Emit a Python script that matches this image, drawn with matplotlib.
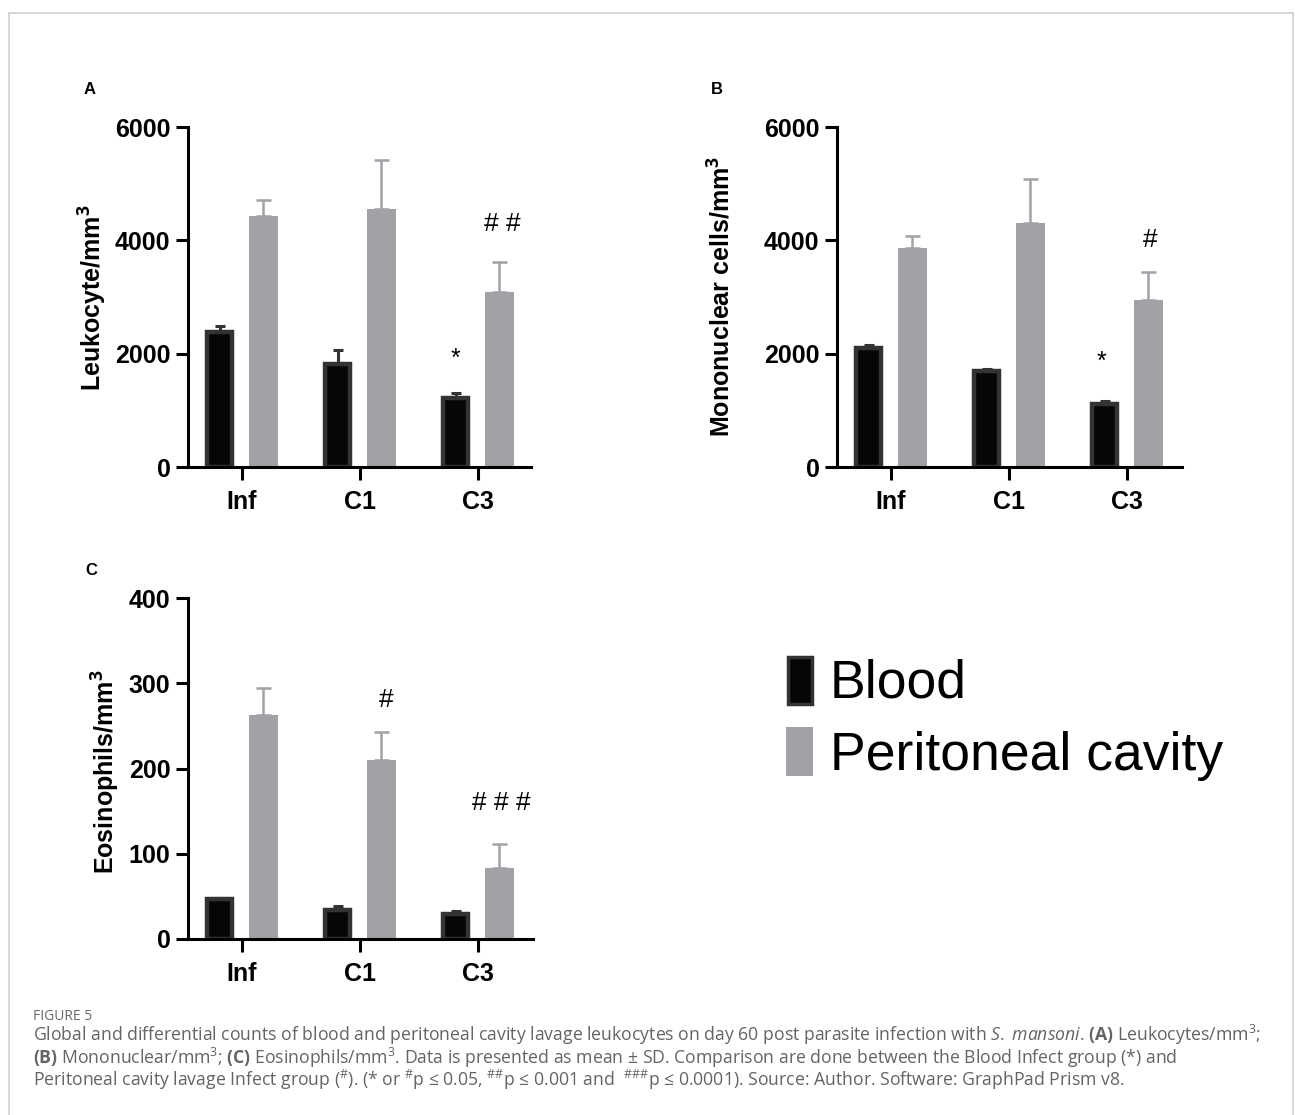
import matplotlib
matplotlib.use('Agg')
import matplotlib.pyplot as plt
import numpy as np
from matplotlib.patches import Rectangle

W, H = 1295, 1115

groups = ['Inf', 'C1', 'C3']

# panel A: leukocytes
leuk_blood = [2380, 1825, 1220]
leuk_blood_sd = [105, 245, 80]
leuk_perit = [4430, 4560, 3090]
leuk_perit_sd = [275, 850, 525]

# panel B: mononuclear cells
mono_blood = [2105, 1695, 1110]
mono_blood_sd = [48, 28, 60]
mono_perit = [3865, 4310, 2940]
mono_perit_sd = [210, 780, 505]

# panel C: eosinophils
eos_blood = [46.5, 34, 29]
eos_blood_sd = [1.5, 4.7, 3.5]
eos_perit = [263, 210, 83]
eos_perit_sd = [32, 33, 28]

BLACK = '#060606'
EDGE = '#333333'
GREY = '#a1a1a6'
CAPFONT = 'Open Sans'

plt.rcParams['font.family'] = 'Liberation Sans'
plt.rcParams['mathtext.fontset'] = 'custom'
plt.rcParams['mathtext.rm'] = CAPFONT
plt.rcParams['mathtext.it'] = CAPFONT + ':italic'
plt.rcParams['mathtext.bf'] = CAPFONT + ':bold'

fig = plt.figure(figsize=(W / 100, H / 100), dpi=100)


def px_axes(x0, y0, x1, y1):
    return fig.add_axes([x0 / W, 1 - y1 / H, (x1 - x0) / W, (y1 - y0) / H])


def draw_panel(ax, blood, blood_sd, perit, perit_sd, ymax, step, xright):
    x = np.arange(len(groups))
    xb = x - 0.19
    xp = x + 0.182
    ax.bar(xb, blood, width=0.21, color=BLACK, edgecolor=EDGE, linewidth=3.2, zorder=2)
    ax.bar(xp, perit, width=0.246, color=GREY, linewidth=0, zorder=2)
    ax.errorbar(xb, blood, yerr=[np.zeros(len(blood)), blood_sd], fmt='none',
                ecolor=EDGE, elinewidth=2.2, capsize=3.6, capthick=2.2, zorder=1)
    ax.errorbar(xp, perit, yerr=[np.zeros(len(perit)), perit_sd], fmt='none',
                ecolor=GREY, elinewidth=1.8, capsize=5.4, capthick=1.8, zorder=1)
    ax.set_xlim(-0.4576, xright)
    ax.set_ylim(0, ymax)
    ax.set_yticks(np.arange(0, ymax + 1, step))
    ax.set_xticks(x)
    ax.set_xticklabels(groups)
    for s in ['top', 'right']:
        ax.spines[s].set_visible(False)
    for s in ['left', 'bottom']:
        ax.spines[s].set_linewidth(2.2)
    ax.tick_params(axis='y', length=8.6, width=2.2, pad=4, labelsize=18)
    ax.tick_params(axis='x', length=9.4, width=2.2, pad=7, labelsize=18)
    for lab in ax.get_xticklabels() + ax.get_yticklabels():
        lab.set_fontweight('bold')
    ax.patch.set_alpha(0)


axA = px_axes(188, 127, 531, 467)
draw_panel(axA, leuk_blood, leuk_blood_sd, leuk_perit, leuk_perit_sd, 6000, 2000, 2.449)
axA.text(1.81, 1912, '*', ha='center', va='center', fontsize=18)
axA.text(2.21, 4294, '# #', ha='center', va='center', fontsize=19)

axB = px_axes(837, 127, 1182, 467)
draw_panel(axB, mono_blood, mono_blood_sd, mono_perit, mono_perit_sd, 6000, 2000, 2.466)
axB.text(1.78, 1853, '*', ha='center', va='center', fontsize=18)
axB.text(2.20, 4000, '#', ha='center', va='center', fontsize=19)

axC = px_axes(188, 598, 533, 939)
draw_panel(axC, eos_blood, eos_blood_sd, eos_perit, eos_perit_sd, 400, 100, 2.466)
axC.text(1.22, 280.6, '#', ha='center', va='center', fontsize=19)
axC.text(2.20, 159, '# # #', ha='center', va='center', fontsize=19)


# text placed in figure pixels
def ftext(x, y, s, **kw):
    fig.text(x / W, 1 - y / H, s, **kw)


ylab = dict(rotation=90, ha='center', va='center', fontsize=18, fontweight='bold')
ftext(93, 298, r'Leukocyte/mm$^{\mathbf{3}}$', **ylab)
ftext(722, 296, r'Mononuclear cells/mm$^{\mathbf{3}}$', **ylab)
ftext(106, 772, r'Eosinophils/mm$^{\mathbf{3}}$', **ylab)

ftext(84, 94, 'A', fontsize=12, fontweight='bold')
ftext(711, 94, 'B', fontsize=12, fontweight='bold')
ftext(85, 575, 'C', fontsize=12, fontweight='bold')

# legend
fig.patches.append(Rectangle((788 / W, 1 - 704 / H), 24 / W, 47 / H, transform=fig.transFigure,
                             facecolor=BLACK, edgecolor=EDGE, linewidth=2.5))
fig.patches.append(Rectangle((786 / W, 1 - 776 / H), 27 / W, 49 / H, transform=fig.transFigure,
                             facecolor=GREY, linewidth=0))
ftext(830, 698, 'Blood', fontsize=38.5, va='baseline')
ftext(830, 770, 'Peritoneal cavity', fontsize=38.5, va='baseline')

# caption
CAP = '#646464'
ftext(33, 1020, 'FIGURE 5', fontsize=10, color='#6a6a6a', family=CAPFONT, va='baseline')
lines = [
    r'Global and differential counts of blood and peritoneal cavity lavage leukocytes on day 60 '
    r'post parasite infection with $\mathit{S.}$ $\mathit{mansoni}$. $\mathbf{(A)}$ Leukocytes/mm$^{3}$;',
    r'$\mathbf{(B)}$ Mononuclear/mm$^{3}$; $\mathbf{(C)}$ Eosinophils/mm$^{3}$. Data is presented '
    r'as mean ± SD. Comparison are done between the Blood Infect group (*) and',
    r'Peritoneal cavity lavage Infect group ($^{\#}$). (* or $^{\#}$p ≤ 0.05, $^{\#\#}$p ≤ 0.001 '
    r'and  $^{\#\#\#}$p ≤ 0.0001). Source: Author. Software: GraphPad Prism v8.',
]
for i, s in enumerate(lines):
    ftext(33, 1041 + 22.5 * i, s, fontsize=12.7, color=CAP, family=CAPFONT, va='baseline')

# outer frame (bottom edge falls outside the canvas)
fig.patches.append(Rectangle((9 / W, 1 - 1130 / H), 1284 / W, 1117 / H, transform=fig.transFigure,
                             facecolor='none', edgecolor='#cfcfcf', linewidth=1.2))

fig.savefig('out.png', dpi=100)
